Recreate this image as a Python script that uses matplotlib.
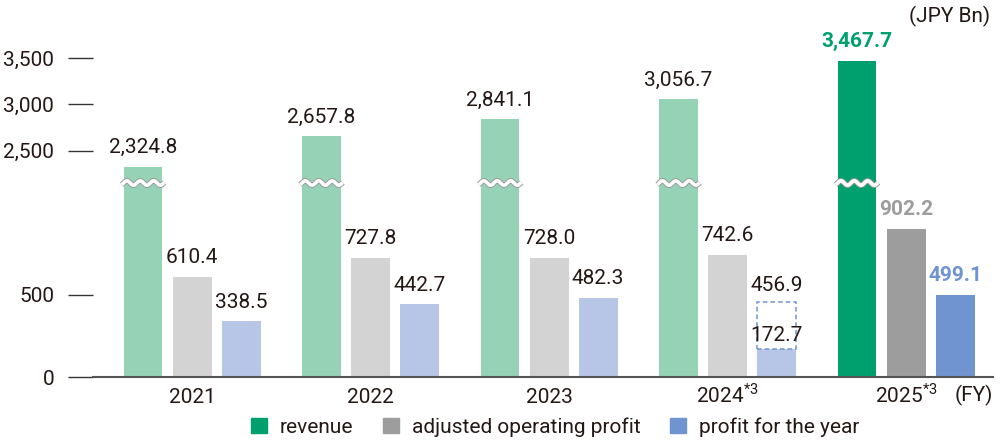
import matplotlib
matplotlib.use("Agg")
import matplotlib.pyplot as plt
from matplotlib.patches import Patch, Rectangle
import numpy as np

plt.rcParams['font.family'] = ['Roboto', 'DejaVu Sans']
plt.rcParams['mathtext.fontset'] = 'custom'
plt.rcParams['mathtext.rm'] = 'Roboto'

# data (JPY Bn)
years = ['2021', '2022', '2023', '2024$^{\\mathrm{*3}}$', '2025$^{\\mathrm{*3}}$']
revenue = [2324.8, 2657.8, 2841.1, 3056.7, 3467.7]
adj_op_profit = [610.4, 727.8, 728.0, 742.6, 902.2]
profit_year = [338.5, 442.7, 482.3, 172.7, 499.1]
profit_2024_before = 456.9
yticks = [0, 500, 2500, 3000, 3500]
legend_labels = ['revenue', 'adjusted operating profit', 'profit for the year']

light = ['#96d2b6', '#d3d3d3', '#b7c6e6']
dark = ['#00a06e', '#9d9d9d', '#7094cf']
txt = '#231815'
fs = 15

# broken y-axis: piecewise linear scale with compressed gap
kv = [0, 1170, 2200, 5000]
kh = [0, 191.9, 198.4, 458]
def fwd(v):
    return np.interp(v, kv, kh)
def inv(h):
    return np.interp(h, kh, kv)

fig = plt.figure(figsize=(10, 4.48), dpi=100)
ax = fig.add_axes([0.093, 71 / 448, 0.9, 377 / 448])
ax.set_yscale('function', functions=(fwd, inv))

x = np.arange(len(years))
w = 0.218
off = 0.275
series = [revenue, adj_op_profit, profit_year]
for i, vals in enumerate(series):
    cols = [light[i]] * (len(vals) - 1) + [dark[i]]
    ax.bar(x + (i - 1) * off, vals, width=w, color=cols, zorder=2)

ax.set_xlim(-0.555, 4.487)
ax.set_ylim(0, inv(377))

# wavy break marks on revenue bars
for xi in x:
    xc = xi - off
    xs = np.linspace(xc - w / 2 - 0.01, xc + w / 2 + 0.01, 80)
    hs = 194 + 2.2 * np.sin(2 * np.pi * (xs - xc + w / 2) / 0.075)
    ax.plot(xs, inv(hs), color='#9a9a9a', lw=4.0, zorder=3, solid_capstyle='butt')
    ax.plot(xs, inv(hs), color='white', lw=2.6, zorder=4, solid_capstyle='butt')

# 2024 dashed box for profit before adjustment
bx = x[3] + off
ax.add_patch(Rectangle((bx - w / 2, profit_year[3]), w, profit_2024_before - profit_year[3],
                       fill=False, ec='#7094cf', ls=(0, (3, 2)), lw=1.1, zorder=3))

# value labels
def fmt(v):
    return '{:,.1f}'.format(v)

for i, vals in enumerate(series):
    for j, v in enumerate(vals):
        xx = x[j] + (i - 1) * off
        if i == 2 and j == 3:
            ax.annotate(fmt(profit_2024_before), (xx, profit_2024_before), xytext=(0, 5),
                        textcoords='offset points', ha='center', va='bottom',
                        fontsize=fs, color=txt)
            ax.annotate(fmt(v), (xx, v), xytext=(0, 3), textcoords='offset points',
                        ha='center', va='bottom', fontsize=fs, color=txt)
            continue
        if j == 4:
            ax.annotate(fmt(v), (xx, v), xytext=(0, 7), textcoords='offset points',
                        ha='center', va='bottom', fontsize=fs, color=dark[i],
                        fontweight='bold')
        else:
            ax.annotate(fmt(v), (xx, v), xytext=(0, 7), textcoords='offset points',
                        ha='center', va='bottom', fontsize=fs, color=txt)

# axes styling
for s in ['top', 'right', 'left']:
    ax.spines[s].set_visible(False)
ax.spines['bottom'].set_color('#555555')
ax.spines['bottom'].set_linewidth(1.5)
ax.set_yticks(yticks)
ax.set_yticklabels(['{:,}'.format(t) for t in yticks])
ax.tick_params(axis='y', length=18, width=1, color='#333333', pad=10,
               labelsize=fs, labelcolor=txt)
ax.set_xticks(x)
ax.set_xticklabels([])
ax.tick_params(axis='x', length=0)
# year labels on a common baseline
for xi, lab in zip(x, years):
    ax.text(xi, -0.068, lab, transform=ax.get_xaxis_transform(), ha='center',
            va='baseline', fontsize=fs, color=txt)

fig.text(0.955, 1 - 401 / 448, '(FY)', ha='left', va='baseline', fontsize=fs, color=txt)
fig.text(0.99, 1 - 16 / 448, '(JPY Bn)', ha='right', va='center', fontsize=fs, color=txt)

handles = [Patch(color=c) for c in dark]
fig.legend(handles, legend_labels, loc='center', bbox_to_anchor=(0.555, 1 - 427 / 448),
           ncol=3, frameon=False, fontsize=fs, handlelength=0.8, handleheight=0.8,
           handletextpad=0.6, columnspacing=1.4, labelcolor=txt)

fig.savefig('out.png', dpi=100)
